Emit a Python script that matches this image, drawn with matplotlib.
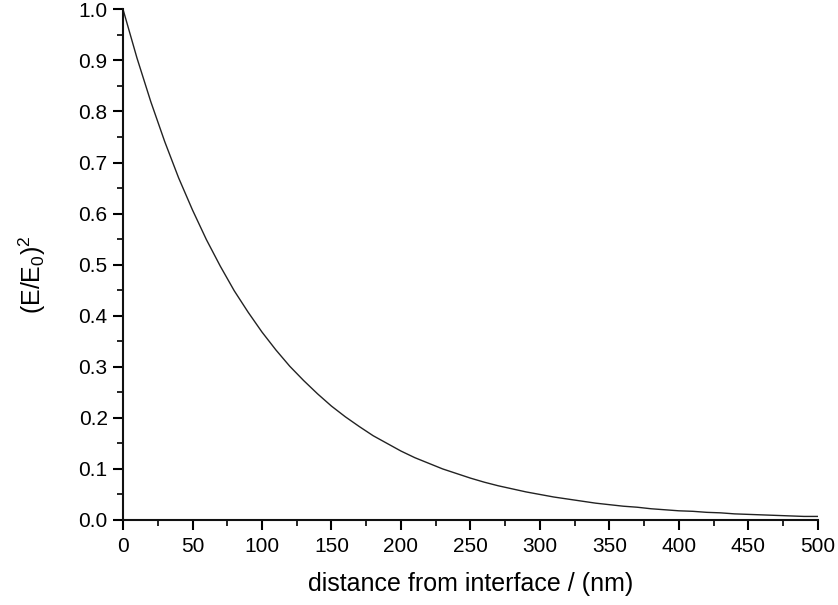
import matplotlib
matplotlib.use("Agg")
import matplotlib.pyplot as plt
from matplotlib.ticker import MultipleLocator, FormatStrFormatter

plt.rcParams["font.family"] = ["Liberation Sans", "DejaVu Sans"]
plt.rcParams["mathtext.fontset"] = "custom"
plt.rcParams["mathtext.rm"] = "Liberation Sans"
plt.rcParams["mathtext.it"] = "Liberation Sans"

# distance from interface (nm) and intensity
distance = [0, 10, 20, 30, 40, 50, 60, 70, 80, 90,
            100, 110, 120, 130, 140, 150, 160, 170, 180, 190,
            200, 210, 220, 230, 240, 250, 260, 270, 280, 290,
            300, 310, 320, 330, 340, 350, 360, 370, 380, 390,
            400, 410, 420, 430, 440, 450, 460, 470, 480, 490, 500]
intensity = [1.000, 0.905, 0.819, 0.741, 0.670, 0.607, 0.549, 0.497, 0.449, 0.407,
             0.368, 0.333, 0.301, 0.273, 0.247, 0.223, 0.202, 0.183, 0.165, 0.150,
             0.135, 0.122, 0.111, 0.100, 0.091, 0.082, 0.074, 0.067, 0.061, 0.055,
             0.050, 0.045, 0.041, 0.037, 0.033, 0.030, 0.027, 0.025, 0.022, 0.020,
             0.018, 0.017, 0.015, 0.014, 0.012, 0.011, 0.010, 0.009, 0.008, 0.007, 0.007]

fig = plt.figure(figsize=(8.38, 6.05), dpi=100)
fig.patch.set_facecolor("white")
ax = fig.add_axes([0.1468, 0.1405, 0.8292, 0.8441])

ax.plot(distance, intensity, color="#222222", lw=1.0)

ax.set_xlim(0, 500)
ax.set_ylim(0, 1.0)
ax.xaxis.set_major_locator(MultipleLocator(50))
ax.xaxis.set_minor_locator(MultipleLocator(25))
ax.yaxis.set_major_locator(MultipleLocator(0.1))
ax.yaxis.set_minor_locator(MultipleLocator(0.05))
ax.yaxis.set_major_formatter(FormatStrFormatter("%.1f"))

for s in ["top", "right"]:
    ax.spines[s].set_visible(False)
for s in ["left", "bottom"]:
    ax.spines[s].set_linewidth(1.5)
    ax.spines[s].set_color("#111111")

ax.tick_params(which="major", direction="out", length=7, width=1.5, labelsize=15)
ax.tick_params(axis="x", which="major", pad=5)
ax.tick_params(axis="y", which="major", pad=4)
ax.tick_params(which="minor", direction="out", length=4.3, width=1.2)

ax.set_xlabel("distance from interface / (nm)", fontsize=18, labelpad=12)
ax.set_ylabel(r"(E/E$_{\rm 0}$)$^{\rm 2}$", fontsize=18, labelpad=22)
ax.yaxis.label.set_y(0.48)

fig.savefig("out.png", dpi=100)
